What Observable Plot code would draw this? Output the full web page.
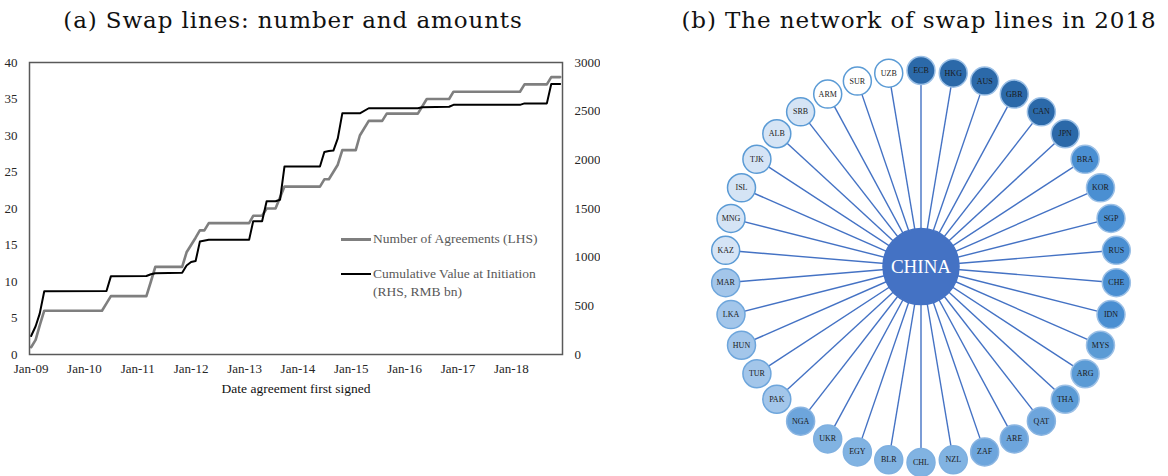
<!DOCTYPE html>
<html><head><meta charset="utf-8">
<script src="https://cdn.jsdelivr.net/npm/d3@7"></script>
<script src="https://cdn.jsdelivr.net/npm/@observablehq/plot@0.6"></script>
<style>
body{margin:0;background:#fff;}
#wrap{position:relative;width:1168px;height:476px;overflow:hidden;font-family:"Liberation Serif",serif;}
.title{position:absolute;top:0;height:40px;line-height:40px;text-align:center;font-family:"DejaVu Serif",serif;font-size:23px;letter-spacing:0.9px;color:#111;white-space:nowrap;}
.lg{position:absolute;font-family:"Liberation Serif",serif;font-size:13.5px;color:#595959;white-space:nowrap;line-height:18px;}
.sw{position:absolute;width:30px;}
svg text{font-family:"Liberation Serif",serif;}
</style></head><body>
<div id="wrap">
  <div class="title" style="left:0;width:586px;">(a) Swap lines: number and amounts</div>
  <div class="title" style="left:670px;width:498px;">(b) The network of swap lines in 2018</div>
  <div id="left" style="position:absolute;left:0;top:40px;"></div>
  <div id="right" style="position:absolute;left:680px;top:40px;"></div>
  <div class="sw" style="left:341px;top:238px;height:2.6px;background:#7f7f7f;"></div>
  <div class="lg" style="left:373px;top:230px;">Number of Agreements (LHS)</div>
  <div class="sw" style="left:341px;top:273px;height:2px;background:#000;"></div>
  <div class="lg" style="left:373px;top:265px;">Cumulative Value at Initiation<br>(RHS, RMB bn)</div>
</div>
<script>
// ---- Panel (a) data ----
const countDates = ["2009-01","2009-02","2009-03","2009-04","2010-05","2010-06","2010-07","2011-03","2011-04","2011-05","2011-11","2011-12","2012-01","2012-02","2012-03","2012-04","2012-05","2013-02","2013-03","2013-05","2013-06","2013-08","2013-10","2014-06","2014-07","2014-08","2014-10","2014-11","2015-02","2015-03","2015-05","2015-08","2015-09","2016-04","2016-06","2016-11","2016-12","2018-03","2018-04","2018-09","2018-10","2018-12"];
const countValues = [1,2,4,6,6,7,8,8,10,12,12,14,15,16,17,17,18,18,19,19,20,20,23,23,24,24,26,28,28,30,32,32,33,33,35,35,36,36,37,37,38,38];
const valueDates = ["2009-01","2009-02","2009-03","2009-04","2010-06","2010-07","2011-03","2011-04","2011-05","2011-11","2011-12","2012-01","2012-02","2012-03","2012-05","2013-02","2013-03","2013-05","2013-06","2013-08","2013-09","2013-10","2014-06","2014-07","2014-08","2014-09","2014-10","2014-11","2015-03","2015-05","2016-04","2016-05","2016-11","2016-12","2018-03","2018-04","2018-09","2018-10","2018-12"];
const valueAmounts = [190,290,420,650,653,803,806,825,835,840,915,950,960,1160,1178,1178,1369,1369,1575,1575,1590,1931,1931,2080,2090,2095,2220,2478,2478,2530,2530,2540,2545,2565,2565,2580,2580,2780,2780];
const yearTicks = ["2009-01","2010-01","2011-01","2012-01","2013-01","2014-01","2015-01","2016-01","2017-01","2018-01"];
const lhsTicks = [0,5,10,15,20,25,30,35,40];
const rhsTicks = [0,500,1000,1500,2000,2500,3000];
const lhsMax = 40, rhsMax = 3000;
const xLabel = "Date agreement first signed";

// ---- Panel (b) data ----
const nodeNames = ["ECB","HKG","AUS","GBR","CAN","JPN","BRA","KOR","SGP","RUS","CHE","IDN","MYS","ARG","THA","QAT","ARE","ZAF","NZL","CHL","BLR","EGY","UKR","NGA","PAK","TUR","HUN","LKA","MAR","KAZ","MNG","ISL","TJK","ALB","SRB","ARM","SUR","UZB"];
const nodeTier = [0,0,0,0,0,0,1,1,1,1,1,1,2,2,2,3,3,3,4,4,4,4,4,3,5,5,5,5,5,6,6,6,6,6,6,7,7,7];
const tierColors = ["#2b69a9","#4a8fd2","#5b9bd5","#6da5dc","#81b3e2","#a3c6ea","#d5e4f5","#ffffff"];
const tierStroke = ["#9cc0e6","#9cc0e6","#9cc0e6","#8ab5e2","#7fb0e0","#6ea6dc","#5b9bd5","#5b9bd5"];
const hubName = "CHINA";

const parse = d3.utcParse("%Y-%m");
const countRows = countDates.map((d,i)=>({date: parse(d), v: countValues[i]}));
const valueRows = valueDates.map((d,i)=>({date: parse(d), v: valueAmounts[i]*lhsMax/rhsMax}));
const font = "Liberation Serif";

const left = Plot.plot({
  width: 600, height: 436,
  marginLeft: 29, marginRight: 38, marginTop: 22, marginBottom: 122,
  style: {fontFamily: font, fontSize: "13px", color: "#262626", background: "#fff"},
  x: {type: "utc", domain: [new Date(Date.UTC(2008,11,21)), new Date(Date.UTC(2018,11,17))]},
  y: {domain: [0, lhsMax]},
  marks: [
    Plot.axisX(yearTicks.map(parse), {tickSize: 0, tickPadding: 9, tickFormat: d3.utcFormat("%b-%y"), label: null, fontSize: 13, fontFamily: font}),
    Plot.axisY(lhsTicks, {tickSize: 0, tickPadding: 12, label: null, fontSize: 13, fontFamily: font}),
    Plot.axisY(rhsTicks.map(v => v*lhsMax/rhsMax), {anchor: "right", tickSize: 0, tickPadding: 12, label: null, fontSize: 13, fontFamily: font, tickFormat: d => String(Math.round(d*rhsMax/lhsMax))}),
    Plot.line(countRows, {x: "date", y: "v", stroke: "#7f7f7f", strokeWidth: 2.6}),
    Plot.line(valueRows, {x: "date", y: "v", stroke: "#000", strokeWidth: 2}),
    Plot.frame({stroke: "#595959", strokeWidth: 1.5}),
    Plot.text([xLabel], {frameAnchor: "bottom", dy: 38, text: d => d, fontSize: 13.5, fontFamily: font, fill: "#111"})
  ]
});
document.getElementById("left").appendChild(left);

const n = nodeNames.length;
const nodes = nodeNames.map((name,i)=>{
  const a = 2*Math.PI*i/n;
  return {name, tier: nodeTier[i], x: Math.sin(a), y: Math.cos(a)};
});
const right = Plot.plot({
  width: 480, height: 436, margin: 0,
  style: {fontFamily: font, background: "#fff"},
  x: {domain: [-1, 1], range: [44.5, 436.5], axis: null},
  y: {domain: [-1, 1], range: [422, 30], axis: null},
  color: {type: "identity"},
  marks: [
    Plot.link(nodes, {x1: d => 0, y1: d => 0, x2: "x", y2: "y", stroke: "#4472c4", strokeWidth: 1.4}),
    Plot.dot(nodes, {x: "x", y: "y", r: 14, fill: d => tierColors[d.tier], stroke: d => tierStroke[d.tier], strokeWidth: 1.5}),
    Plot.text(nodes, {x: "x", y: "y", text: "name", fontSize: 8, fontFamily: font, fill: "#1a1a1a"}),
    Plot.dot([hubName], {x: d => 0, y: d => 0, r: 38, fill: "#4472c4", stroke: "#4472c4"}),
    Plot.text([hubName], {x: d => 0, y: d => 0, text: d => d, fontSize: 19, fontFamily: font, fill: "#fff"})
  ]
});
document.getElementById("right").appendChild(right);
</script>
</body></html>
